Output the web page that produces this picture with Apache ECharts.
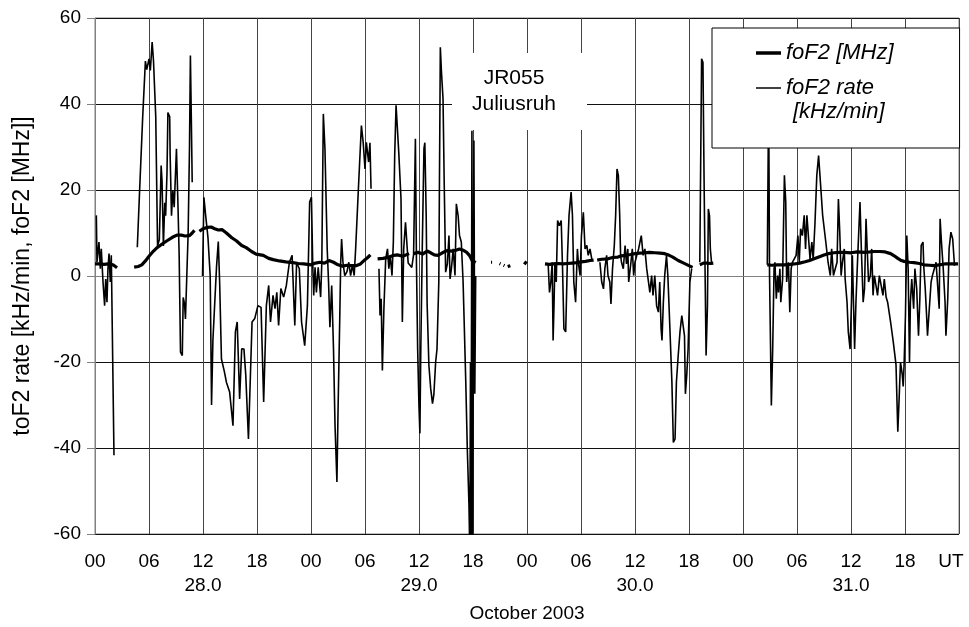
<!DOCTYPE html>
<html><head><meta charset="utf-8">
<script src="https://cdn.jsdelivr.net/npm/echarts@6/dist/echarts.min.js"></script>
<style>html,body{margin:0;padding:0;background:#fff}#c{width:969px;height:627px}</style>
</head><body><div id="c"></div>
<script>
// ---- tick labels ----
const hourLabels = ['00', '06', '12', '18'];
const dayLabels = ['28.0', '29.0', '30.0', '31.0'];
const GAP = null; // data gap marker

// ---- foF2 [MHz]  ([hours since 28 Oct 00 UT, value]) ----
const foF2_28 = [[0.0,2.8],[0.5,2.8],[1.0,2.7],[1.5,2.8],[2.0,2.6],[2.2,2.4],[2.45,1.9],GAP,
  [4.35,2.05],[4.8,2.2],[5.2,2.6],[5.6,3.5],[6.0,4.6],[6.5,5.8],[6.9,6.6],[7.5,7.5],[8.0,8.2],[8.6,9.0],[9.1,9.5],[9.6,9.5],[10.0,9.3],[10.5,9.4],[10.8,10.0],[11.05,10.6],GAP,
  [11.6,10.4],[12.0,11.0],[12.5,11.3],[12.9,11.4],[13.3,11.0],[13.7,10.7],[14.1,10.8],[14.6,10.0],[15.2,8.9],[15.7,8.2],[16.3,7.1],[16.8,6.6],[17.4,5.7],[17.9,5.1],[18.7,4.8],[19.3,4.1],[19.8,3.8],[20.5,3.5],[21.2,3.3],[22.0,3.1],[22.6,2.9],[23.2,2.8],[24.0,2.6]];
const foF2_29 = [[24.5,3.0],[25.0,3.2],[25.5,3.0],[26.0,3.6],[26.5,3.2],[27.0,2.6],[27.5,2.3],[28.0,2.5],[28.5,2.4],[29.0,2.4],[29.5,2.8],[30.0,3.8],[30.3,4.3],[30.6,4.9],GAP,
  [31.4,4.0],[32.0,4.1],[32.7,4.4],[33.2,4.8],[33.6,4.9],[34.2,4.6],[34.9,5.2],GAP,
  [35.4,5.2],[35.9,5.5],[36.4,5.1],[36.9,5.8],[37.3,5.4],[37.7,4.9],[38.1,4.8],[38.6,5.4],[39.1,5.9],[39.6,5.8],[40.1,6.0],[40.5,6.3],[40.9,6.0],[41.3,5.5],[41.6,4.8],[41.9,3.6],[42.3,3.1],GAP,
  [44.0,3.2],[44.12,3.2],GAP,[44.95,2.9],[45.05,2.8],GAP,[45.4,2.5],[45.5,2.4],GAP,[45.85,2.2],[46.0,2.3],[46.15,2.4],GAP,[47.7,2.7],[47.85,3.0],[47.95,3.4],GAP];
const foF2_30 = [[50.0,2.8],[50.5,2.7],[51.0,2.8],[51.5,2.9],[52.0,2.8],[52.5,2.9],[53.0,3.0],[53.5,3.1],[54.0,3.3],[54.5,3.4],[55.0,3.6],[55.4,3.7],GAP,
  [55.8,3.7],[56.3,3.9],[57.0,4.0],[57.5,4.3],[58.1,4.4],[58.5,4.7],[58.9,4.8],[59.5,5.0],[60.0,5.2],[60.5,5.3],[61.1,5.4],[61.6,5.5],[62.2,5.4],[62.8,5.3],[63.3,5.2],[63.8,4.8],[64.2,4.4],[64.8,3.6],[65.3,3.1],[65.7,2.7],[66.1,2.3],[66.4,2.0],GAP,
  [67.2,2.6],[67.6,3.0],[68.0,3.0],[68.4,2.9],[68.7,3.0],GAP];
const foF2_31 = [[74.7,2.6],[75.2,2.5],[75.8,2.6],[76.6,2.6],[77.2,2.7],[77.7,2.8],[78.3,3.0],[78.9,3.3],[79.4,3.6],[79.9,4.0],[80.5,4.5],[81.0,4.9],[81.5,5.2],[82.1,5.4],[82.7,5.5],[83.3,5.5],[84.0,5.4],[84.7,5.6],[85.5,5.5],[86.1,5.6],[86.6,5.7],[87.2,5.7],[87.8,5.6],[88.4,5.2],[88.8,4.7],[89.2,4.1],[89.6,3.6],[89.9,3.4],[90.5,3.2],[91.0,3.1],[91.6,2.9],[92.1,2.6],[92.7,2.5],[93.3,2.4],[93.8,2.6],[94.4,2.8],[95.0,2.8],[95.5,2.8],[95.9,2.8]];

// ---- foF2 rate [kHz/min] ----
const rate_28 = [[0.15,14.1],[0.22,3.2],[0.44,7.9],[0.59,1.7],[0.7,6.3],[0.89,-1.4],[1.07,-6.9],[1.19,-0.7],[1.33,-6.1],[1.44,1.7],[1.56,5.2],[1.7,-1.4],[1.81,4.8],[2.11,-41.7],GAP,
  [4.7,6.7],[4.95,19.5],[5.3,37],[5.6,50],[5.75,48],[6.0,50.5],[6.15,47.8],[6.35,54.4],[6.5,50],[6.75,37],[6.95,7],[7.15,8.5],[7.35,25.7],[7.45,22],[7.6,7],[7.75,17],[7.85,14],[8.0,24],[8.1,38],[8.3,37],[8.35,28],[8.5,14],[8.65,20],[8.8,16],[9.05,29.6],[9.2,18],[9.35,5],[9.5,-17.7],[9.7,-18.5],[9.8,-5],[9.95,-6.5],[10.05,-10],[10.2,0],[10.35,10],[10.5,30],[10.6,51.3],[10.7,37],[10.8,21.8],GAP,
  [11.95,0],[12.1,18.3],[12.3,14],[12.55,9],[12.8,0],[12.95,-30],[13.1,-15],[13.5,2],[13.7,8],[13.85,-1.5],[14.05,-19.3],[14.35,-22],[14.6,-24.7],[14.96,-27],[15.33,-34.8],[15.6,-13],[15.8,-10.7],[16.07,-28.6],[16.3,-16.9],[16.55,-17],[16.75,-23],[17.05,-37.9],[17.45,-10.7],[17.75,-9.9],[18.1,-6.9],[18.45,-7.3],[18.74,-29.3],[19.04,-6.9],[19.3,-2.2],[19.5,-10.7],[19.78,-4.5],[20.0,-7.6],[20.2,-3.8],[20.4,-11.5],[20.65,-2.9],[20.96,-4.9],[21.26,-2.2],[21.6,3.2],[21.9,4.8],[22.2,-11.5],[22.4,3.2],[22.7,1.7],[22.95,-10.7],[23.3,-16.2],[23.6,-6.9],[23.85,17.2],[24.05,18.3]];
const rate_29 = [[24.2,2],[24.3,-4.5],[24.45,2],[24.6,-3.8],[24.8,2],[25.07,-4.9],[25.2,3],[25.37,37.7],[25.55,29.6],[25.8,6.3],[25.95,-1.4],[26.1,-11.9],[26.3,-2.2],[26.5,-17],[26.67,-34.8],[26.88,-47.9],[27.0,-32],[27.2,-9.2],[27.3,3.2],[27.4,8.6],[27.55,3.2],[27.75,0.1],[28.0,1],[28.2,3.2],[28.4,0.1],[28.6,2.5],[28.8,0.1],[28.96,6.3],[29.3,21.8],[29.6,35],[29.8,31],[30.0,24.9],[30.15,31.1],[30.4,26.5],[30.55,31],[30.67,20.3],GAP,
  [31.55,1.7],[31.67,-9.2],[31.8,-5.3],[31.93,-22],[32.1,-7.6],[32.3,4],[32.5,6.3],[32.65,1.7],[32.8,4.8],[33.0,0.1],[33.15,7.9],[33.3,28],[33.45,39.7],[33.6,40],[33.75,28.8],[34.0,17.9],[34.15,-10.7],[34.3,6.3],[34.5,12.5],[34.8,3],[35.2,2],[35.4,5],[35.6,31.9],[35.72,2.5],[35.85,-17],[36.0,-30.5],[36.1,-36.6],[36.2,-17],[36.35,4.8],[36.55,29.6],[36.65,31],[36.8,14],[36.9,-6.2],[37.1,-20.8],[37.3,-26.2],[37.5,-29.7],[37.65,-27.6],[37.85,-20],[38.0,-17],[38.2,-1.4],[38.37,53.2],[38.5,47.3],[38.67,41.2],[38.8,21.8],[38.96,0.9],[39.15,2.8],[39.33,9.4],[39.45,-0.7],[39.6,1.7],[39.8,6.3],[40.0,0.1],[40.15,16.8],[40.35,14],[40.5,9.4],[40.7,7.9],[40.9,-1.4],[41.0,-9.2],[41.2,-24.9],[41.37,-40.4],[41.55,-53],[41.65,-65],[41.72,-20],[41.78,-65],[41.88,33.8],[41.96,-65],[42.1,31.5],[42.2,-27.4],[42.3,0],GAP];
const rate_30 = [[50.35,2.8],[50.5,-3.8],[50.65,-1.4],[50.8,3.2],[50.9,-15],[51.0,-6.9],[51.1,3.2],[51.25,-1.4],[51.4,12.9],[51.6,11.7],[51.8,12.9],[51.95,1.7],[52.1,-12.3],[52.3,-13],[52.5,4.8],[52.67,14.1],[52.9,19.5],[53.05,14.1],[53.2,-1.4],[53.4,-6.1],[53.6,6.3],[53.7,3.2],[53.9,0.1],[54.05,9.4],[54.26,14.8],[54.45,6.3],[54.65,7.1],[54.8,4.8],[55.0,6.3],[55.2,3.9],GAP,
  [56.1,3.2],[56.3,-1.4],[56.5,-3],[56.65,1.7],[56.85,4.8],[57.0,0.1],[57.2,-1.4],[57.33,-6.5],[57.5,1.7],[57.7,7.1],[57.85,14.1],[58.0,24.9],[58.15,23.4],[58.3,14.1],[58.4,4.8],[58.5,3.2],[58.7,1.7],[58.9,7.1],[59.05,2.8],[59.2,6.3],[59.3,-1.4],[59.55,3.2],[59.7,6.3],[59.85,0.1],[60.0,3.2],[60.2,4.8],[60.4,6.3],[60.55,7.9],[60.7,9.4],[60.9,4.8],[61.1,6.3],[61.3,1.7],[61.5,-1.4],[61.65,-3.8],[61.85,0.1],[62.0,-4.5],[62.2,0.1],[62.4,-6.9],[62.6,-8.4],[62.75,-1.4],[62.9,-12.3],[63.0,-15],[63.15,-6.1],[63.3,0.1],[63.5,4.8],[63.65,0.1],[63.85,-10.7],[64.1,-24.7],[64.26,-38.7],[64.45,-37.9],[64.6,-24.7],[64.8,-18.5],[65.0,-13],[65.2,-9.2],[65.4,-8.8],[65.5,-13.9],[65.6,-27.4],[65.75,-23],[65.9,-17],[66.1,-1.4],[66.3,1.7],GAP,
  [67.2,3.2],[67.4,50.5],[67.55,49.7],[67.67,23.4],[67.8,-1.4],[67.9,-18.5],[68.05,-6.9],[68.15,15.6],[68.28,14],[68.37,6.3],[68.5,3.2],GAP];
const rate_31 = [[74.7,2.6],[74.85,42],[74.95,0],[75.15,-30.1],[75.3,-16.9],[75.45,1.7],[75.55,3.2],[75.7,-5.3],[75.85,0.1],[75.95,-3.8],[76.1,1.7],[76.2,-6.1],[76.4,-0.7],[76.6,23.4],[76.75,17.2],[76.85,-1.4],[77.05,3.2],[77.2,-8.4],[77.35,1.7],[77.5,3.2],[77.7,4],[77.9,4.8],[78.1,9.4],[78.25,3.2],[78.4,11],[78.6,9.4],[78.8,14.1],[78.95,6.3],[79.1,14.1],[79.3,14.1],[79.45,3.9],[79.65,7.9],[79.8,3.9],[80.0,12.4],[80.2,23.4],[80.4,28],[80.55,23.4],[80.85,14.1],[81.2,7.9],[81.45,3.2],[81.7,0.1],[81.85,6.3],[82.05,0.1],[82.25,1.7],[82.45,3.2],[82.6,17.9],[82.75,10.2],[82.9,0.1],[83.05,3.2],[83.25,6.3],[83.35,-0.7],[83.56,-6.1],[83.7,-13],[83.9,-17],[84.05,-6.1],[84.15,4.8],[84.4,-17],[84.55,-6.1],[84.75,4.8],[85.0,17.2],[85.15,6.3],[85.35,-6.1],[85.5,-3],[85.67,13.3],[85.8,6.3],[85.95,-1.4],[86.15,0.1],[86.3,6.3],[86.45,-4.5],[86.6,0.1],[86.8,0.1],[86.95,-4.5],[87.15,0.1],[87.35,0.1],[87.55,-4.5],[87.7,-0.7],[87.9,-4.9],[88.07,-6.1],[88.4,-10.7],[88.7,-15.4],[89.0,-20.6],[89.2,-36.2],[89.35,-28.4],[89.5,-20],[89.7,-23],[89.8,-25.7],[89.9,-20.6],[90.05,-9.2],[90.2,9.4],[90.35,1.7],[90.5,-20],[90.6,-6.1],[90.75,-0.7],[90.96,-7.6],[91.1,1.7],[91.3,-3],[91.5,-13.9],[91.65,-5.3],[91.8,7.1],[92.0,7.9],[92.1,1.7],[92.25,-3],[92.4,-9.2],[92.5,-13.9],[92.7,-7.6],[92.9,-1.4],[93.05,0.1],[93.26,1.7],[93.45,3.2],[93.6,-1.4],[93.8,-7.6],[93.9,13.3],[94.05,7.9],[94.25,1.7],[94.45,-6.1],[94.55,-13.9],[94.75,-5.3],[94.9,6.3],[95.1,10.2],[95.3,8.6],[95.5,2.4]];

function build(parts) {
  const out = [];
  parts.forEach(p => p.forEach(pt => out.push(pt === GAP ? ['-', '-'] : pt)));
  return out;
}
const foF2Data = build([foF2_28, foF2_29, foF2_30, foF2_31]);
const rateData = build([rate_28, rate_29, rate_30, rate_31]);

const FONT = "'Liberation Sans', Arial, Helvetica, sans-serif";
const chart = echarts.init(document.getElementById('c'), null, {renderer: 'canvas'});
chart.setOption({
  animation: false,
  backgroundColor: '#fff',
  grid: {left: 95, right: 10, top: 18, bottom: 93, show: true, borderColor: '#808080', borderWidth: 1,
         containLabel: false, outerBoundsMode: 'none'},
  xAxis: {
    type: 'value', min: 0, max: 96, interval: 6,
    name: 'October 2003', nameLocation: 'middle', nameGap: 70,
    nameTextStyle: {fontFamily: FONT, fontSize: 19, color: '#000'},
    axisLine: {show: true, lineStyle: {color: '#808080'}},
    axisTick: {show: false},
    axisLabel: {
      margin: 16, fontFamily: FONT, fontSize: 19, color: '#000', lineHeight: 24,
      showMinLabel: true, showMaxLabel: true, hideOverlap: false,
      formatter: function (v) {
        if (v === 96) return '{ut|UT}';
        const h = v % 24;
        const lab = hourLabels[h / 6];
        if (h === 12) return lab + '\n' + dayLabels[Math.floor(v / 24)];
        return lab;
      },
      rich: {ut: {fontFamily: FONT, fontSize: 19, color: '#000', padding: [0, 16, 0, 0]}}
    },
    splitLine: {show: true, lineStyle: {color: '#444', width: 1}}
  },
  yAxis: {
    type: 'value', min: -60, max: 60, interval: 20,
    name: 'toF2 rate [kHz/min, foF2 [MHz]]', nameLocation: 'middle', nameGap: 61, nameRotate: 90,
    nameTextStyle: {fontFamily: FONT, fontSize: 23, color: '#000'},
    axisLine: {show: true, lineStyle: {color: '#808080'}},
    axisTick: {show: true, length: 8, lineStyle: {color: '#808080'}},
    axisLabel: {margin: 14, fontFamily: FONT, fontSize: 19, color: '#000'},
    splitLine: {show: true, lineStyle: {color: '#111', width: 1}}
  },
  legend: {
    orient: 'vertical', left: 712, top: 28,
    padding: [14, 66, 49, 44], itemGap: 13, itemWidth: 25, itemHeight: 14,
    backgroundColor: '#fff', borderColor: '#000', borderWidth: 1, borderRadius: 0,
    selectedMode: false, symbolKeepAspect: true,
    textStyle: {fontFamily: FONT, fontSize: 22, fontStyle: 'italic', color: '#000'},
    data: [
      {name: 'foF2 [MHz]', icon: 'path://M0,0H25V3.5H0Z'},
      {name: 'foF2 rate', icon: 'path://M0,0H25V1.5H0Z'}
    ]
  },
  graphic: [
    {type: 'rect', z: 50, shape: {x: 452, y: 53, width: 135, height: 77}, style: {fill: '#fff'}},
    {type: 'text', z: 51, x: 514, y: 78, style: {text: 'JR055', fontFamily: FONT, fontSize: 21, fill: '#000', align: 'center', verticalAlign: 'middle'}},
    {type: 'text', z: 51, x: 514, y: 104, style: {text: 'Juliusruh', fontFamily: FONT, fontSize: 21, fill: '#000', align: 'center', verticalAlign: 'middle'}},
    {type: 'text', z: 51, x: 793, y: 112, style: {text: '[kHz/min]', fontFamily: FONT, fontSize: 22, fontStyle: 'italic', fill: '#000', align: 'left', verticalAlign: 'middle'}}
  ],
  series: [
    {name: 'foF2 rate', type: 'line', data: rateData, symbol: 'none', showSymbol: false, connectNulls: false, z: 2,
     lineStyle: {color: '#000', width: 1.6}, itemStyle: {color: '#000'}},
    {name: 'foF2 [MHz]', type: 'line', data: foF2Data, symbol: 'none', showSymbol: false, connectNulls: false, z: 3,
     lineStyle: {color: '#000', width: 3.2}, itemStyle: {color: '#000'}}
  ]
});
</script></body></html>
